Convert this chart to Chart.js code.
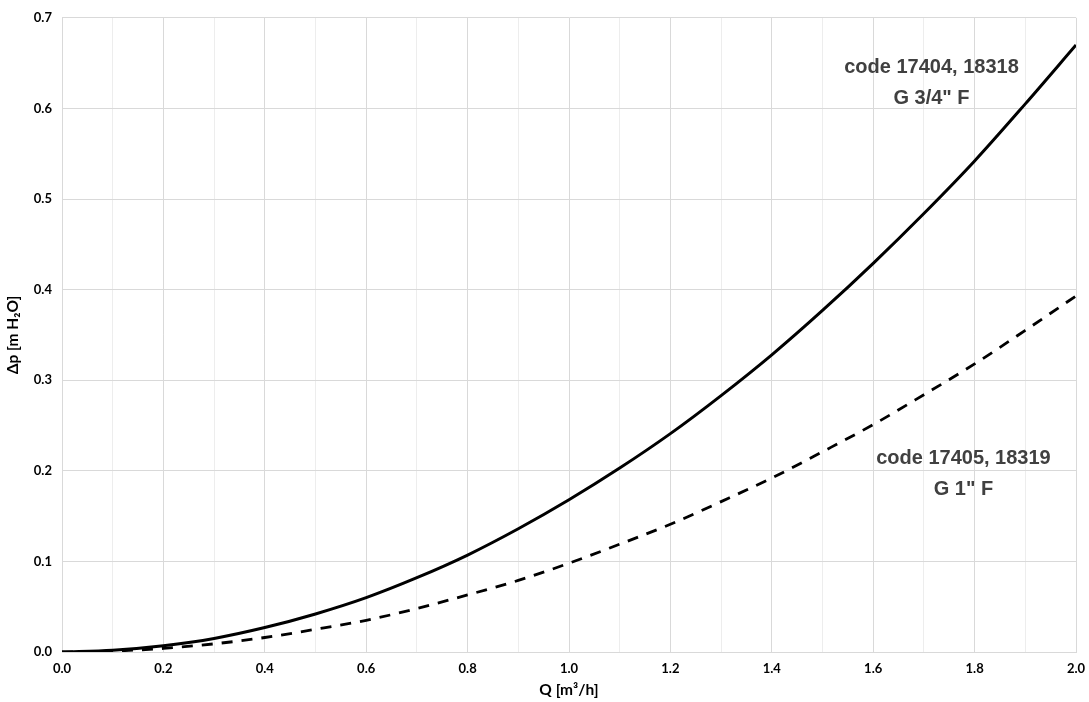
<!DOCTYPE html>
<html>
<head>
<meta charset="utf-8">
<script src="https://cdn.jsdelivr.net/npm/chart.js@4"></script>
<style>
  html, body { margin: 0; padding: 0; background: #fff; }
  #wrap { width: 1089px; height: 702px; }
</style>
</head>
<body>
<div id="wrap"><canvas id="grafico" width="1089" height="702"></canvas></div>
<script>
// Datos
const caudal = [0.0, 0.1, 0.2, 0.3, 0.4, 0.5, 0.6, 0.7, 0.8, 0.9, 1.0,
  1.1, 1.2, 1.3, 1.4, 1.5, 1.6, 1.7, 1.8, 1.9, 2.0];
const dp34 = [0, 0.002, 0.007, 0.015, 0.027, 0.042, 0.060, 0.082, 0.107, 0.136, 0.168,
  0.203, 0.241, 0.283, 0.328, 0.377, 0.429, 0.484, 0.542, 0.605, 0.670];
const dp1 = [0, 0.001, 0.004, 0.009, 0.016, 0.025, 0.035, 0.048, 0.063, 0.079, 0.098,
  0.119, 0.141, 0.166, 0.192, 0.221, 0.251, 0.284, 0.318, 0.355, 0.393];
const etiquetas = [
  { lineas: ['code 17404, 18318', 'G 3/4" F'], x: 1.715, y: 0.645 },
  { lineas: ['code 17405, 18319', 'G 1" F'], x: 1.778, y: 0.214 }
];

const tickFont = { family: 'Lato, "DejaVu Sans", sans-serif', size: 13, weight: 'bold' };
const titleFont = { family: 'Lato, "DejaVu Sans", sans-serif', size: 15.5, weight: 'bold' };

const textos = {
  id: 'textos',
  afterDatasetsDraw(chart) {
    const c = chart.ctx;
    const xs = chart.scales.x, ys = chart.scales.y;
    c.save();
    c.fillStyle = '#404040';
    c.font = 'bold 20px "Liberation Sans", Arial, sans-serif';
    c.textAlign = 'center';
    c.textBaseline = 'middle';
    etiquetas.forEach(e => {
      const px = xs.getPixelForValue(e.x);
      const py = ys.getPixelForValue(e.y);
      e.lineas.forEach((l, i) => c.fillText(l, px, py + i * 31));
    });
    c.restore();
  }
};

const ctx = document.getElementById('grafico').getContext('2d');
new Chart(ctx, {
  type: 'line',
  data: {
    datasets: [
      {
        label: 'G 3/4" F',
        data: caudal.map((q, i) => ({ x: q, y: dp34[i] })),
        borderColor: '#000',
        borderWidth: 3,
        pointRadius: 0,
        cubicInterpolationMode: 'monotone',
        fill: false
      },
      {
        label: 'G 1" F',
        data: caudal.map((q, i) => ({ x: q, y: dp1[i] })),
        borderColor: '#000',
        borderWidth: 2.8,
        borderDash: [11, 9],
        pointRadius: 0,
        cubicInterpolationMode: 'monotone',
        fill: false
      }
    ]
  },
  options: {
    responsive: false,
    animation: false,
    layout: { padding: { left: 4, right: 13, top: 10, bottom: 3 } },
    plugins: { legend: { display: false }, tooltip: { enabled: false } },
    scales: {
      x: {
        type: 'linear',
        min: 0, max: 2.0,
        border: { display: true, color: '#d9d9d9', width: 1 },
        grid: {
          color: c => (Math.round(c.tick.value * 10) % 2 === 0 ? '#d9d9d9' : '#ededed'),
          drawTicks: false
        },
        ticks: {
          stepSize: 0.1,
          color: '#000',
          font: tickFont,
          padding: 9,
          maxRotation: 0,
          autoSkip: false,
          callback: v => (Math.round(v * 10) % 2 === 0 ? v.toFixed(1) : '')
        },
        title: { display: true, text: 'Q [m³/h]', color: '#000', font: titleFont, padding: { top: 1, bottom: 0 } },
        afterFit: s => { s.height = 47; s.paddingRight = 0; s.paddingLeft = 0; }
      },
      y: {
        min: 0, max: 0.7,
        border: { display: true, color: '#d9d9d9', width: 1 },
        grid: { color: '#d9d9d9', drawTicks: false },
        ticks: {
          stepSize: 0.1,
          color: '#000',
          font: tickFont,
          padding: 10,
          callback: v => v.toFixed(1)
        },
        title: { display: true, text: 'Δp [m H₂O]', color: '#000', font: titleFont, padding: 0 },
        afterFit: s => { s.width = 58; }
      }
    }
  },
  plugins: [textos]
});
</script>
</body>
</html>
